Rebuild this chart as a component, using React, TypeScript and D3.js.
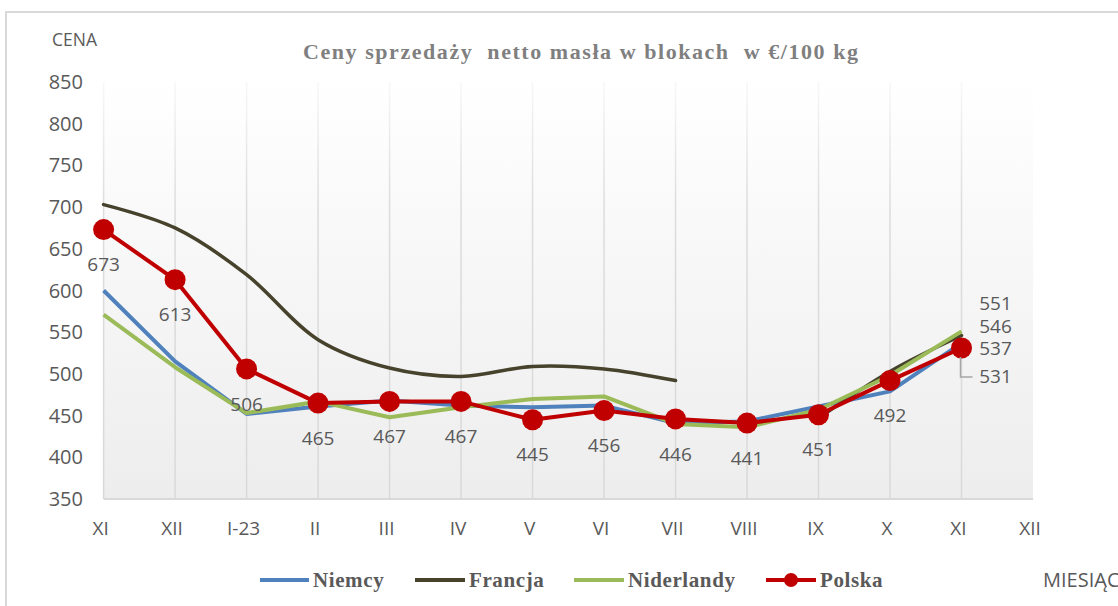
import React, { useEffect } from "react";
import * as d3 from "d3";

const months = ["XI", "XII", "I-23", "II", "III", "IV", "V", "VI", "VII", "VIII", "IX", "X", "XI", "XII"];
const yTicks = [350, 400, 450, 500, 550, 600, 650, 700, 750, 800, 850];

const niemcy = [600, 515, 452, 461, 468, 462, 460, 462, 441, 443, 461, 479, 537];
const francja: (number | null)[] = [703, 675, 619, 541, 507, 497, 509, 506, 492, null, 447, 503, 546];
const niderlandy = [571, 508, 453, 467, 448, 460, 470, 473, 440, 436, 457, 498, 551];
const polska = [673, 613, 506, 465, 467, 467, 445, 456, 446, 441, 451, 492, 531];

const W = 1118;
const H = 606;
const left = 103.6;
const right = 1033;
const top = 82;
const bottom = 499;

const axisFont = "'Open Sans', 'Noto Sans', sans-serif";
const serif = "'Liberation Serif', 'DejaVu Serif', serif";
const gray = "#595959";

const App = () => {
  useEffect(() => {
    document.body.style.margin = "0";
  }, []);

  const x = d3.scaleLinear().domain([0, months.length - 1]).range([left, right]);
  const y = d3.scaleLinear().domain([350, 850]).range([bottom, top]);

  const straight = d3
    .line<number>()
    .x((d, i) => x(i))
    .y((d) => y(d));

  const smooth = d3
    .line<number | null>()
    .defined((d) => d !== null)
    .x((d, i) => x(i))
    .y((d) => y(d as number))
    .curve(d3.curveCatmullRom.alpha(0.5));

  const last = polska.length - 1;
  // labels for the last month, stacked on the right
  const endLabels = [
    { v: niderlandy[last], dy: -45 },
    { v: francja[last] as number, dy: -22 },
    { v: niemcy[last], dy: 0 },
    { v: polska[last], dy: 28 },
  ];

  return (
    <div style={{ position: "fixed", left: 0, top: 0 }}>
      <svg width={W} height={H} style={{ display: "block", background: "#fff" }}>
        <defs>
          <linearGradient id="bg" x1="0" y1="0" x2="0" y2="1">
            <stop offset="0" stopColor="#ffffff" />
            <stop offset="1" stopColor="#ededed" />
          </linearGradient>
          <linearGradient id="grid" x1="0" y1="0" x2="0" y2="1">
            <stop offset="0" stopColor="#d9d9d9" stopOpacity={0.2} />
            <stop offset="0.3" stopColor="#d9d9d9" stopOpacity={0.9} />
            <stop offset="1" stopColor="#d9d9d9" />
          </linearGradient>
        </defs>

        {/* chart frame */}
        <rect x={6} y={12} width={W + 20} height={H + 20} fill="none" stroke="#d9d9d9" strokeWidth={2} />

        {/* plot area */}
        <rect x={left} y={top} width={right - left} height={bottom - top} fill="url(#bg)" />
        {months.slice(0, months.length - 1).map((m, i) => (
          <rect key={"g" + i} x={x(i) - 0.75} width={1.5} y={top} height={bottom - top} fill="url(#grid)" />
        ))}
        <line x1={left} x2={right} y1={bottom} y2={bottom} stroke="#d9d9d9" strokeWidth={2} />

        {/* title */}
        <text
          x={303}
          y={59}
          textLength={555}
          lengthAdjust="spacing"
          fontFamily={serif}
          fontWeight="bold"
          fontSize={22}
          fill="#7f7f7f"
          style={{ whiteSpace: "pre" }}
        >
          Ceny sprzedaży  netto masła w blokach  w €/100 kg
        </text>
        <text x={52} y={46} fontFamily={axisFont} fontSize={17.5} fill={gray}>
          CENA
        </text>
        <text x={1043} y={587} fontFamily={axisFont} fontSize={20} fill={gray}>
          MIESIĄC
        </text>

        {/* y axis labels */}
        {yTicks.map((t) => (
          <text key={t} x={83} y={y(t)} dy="0.35em" textAnchor="end" fontFamily={axisFont} fontSize={20} fill={gray}>
            {t}
          </text>
        ))}

        {/* x axis labels */}
        {months.map((m, i) => (
          <text key={"m" + i} x={x(i) - 3} y={528} dy="0.35em" textAnchor="middle" fontFamily={axisFont} fontSize={19} fill={gray}>
            {m}
          </text>
        ))}

        {/* series */}
        <path d={straight(niemcy) ?? ""} fill="none" stroke="#4f81bd" strokeWidth={4} strokeLinejoin="round" />
        <path d={smooth(francja) ?? ""} fill="none" stroke="#46422c" strokeWidth={3.5} strokeLinecap="round" />
        <path d={straight(niderlandy) ?? ""} fill="none" stroke="#9bbb59" strokeWidth={4} strokeLinejoin="round" />
        <path d={straight(polska) ?? ""} fill="none" stroke="#c00000" strokeWidth={4} strokeLinejoin="round" />
        {polska.map((v, i) => (
          <circle key={"p" + i} cx={x(i)} cy={y(v)} r={10.5} fill="#c00000" />
        ))}

        {/* data labels */}
        {polska.slice(0, last).map((v, i) => (
          <text key={"l" + i} x={x(i)} y={y(v) + 35} dy="0.35em" textAnchor="middle" fontFamily={axisFont} fontSize={19} fill={gray}>
            {v}
          </text>
        ))}
        <polyline
          points={`${x(last) - 1},${y(polska[last]) + 9} ${x(last) - 1},${y(polska[last]) + 29} ${x(last) + 11},${y(polska[last]) + 29}`}
          fill="none"
          stroke="#a6a6a6"
          strokeWidth={1.5}
        />
        {endLabels.map((l, i) => (
          <text
            key={"e" + i}
            x={x(last) + 34}
            y={y(polska[last]) + l.dy}
            dy="0.35em"
            textAnchor="middle"
            fontFamily={axisFont}
            fontSize={19}
            fill={gray}
          >
            {l.v}
          </text>
        ))}

        {/* legend */}
        <g fontFamily={serif} fontWeight="bold" fontSize={21} fill={gray} letterSpacing={0.6}>
          <line x1={260} x2={309} y1={580} y2={580} stroke="#4f81bd" strokeWidth={4} />
          <text x={313} y={587}>Niemcy</text>
          <line x1={415} x2={465} y1={580} y2={580} stroke="#46422c" strokeWidth={4} />
          <text x={469} y={587}>Francja</text>
          <line x1={574} x2={624} y1={580} y2={580} stroke="#9bbb59" strokeWidth={4} />
          <text x={628} y={587}>Niderlandy</text>
          <line x1={766} x2={816} y1={580} y2={580} stroke="#c00000" strokeWidth={4} />
          <circle cx={791} cy={580} r={7} fill="#c00000" />
          <text x={820} y={587}>Polska</text>
        </g>
      </svg>
    </div>
  );
};

export default App;
